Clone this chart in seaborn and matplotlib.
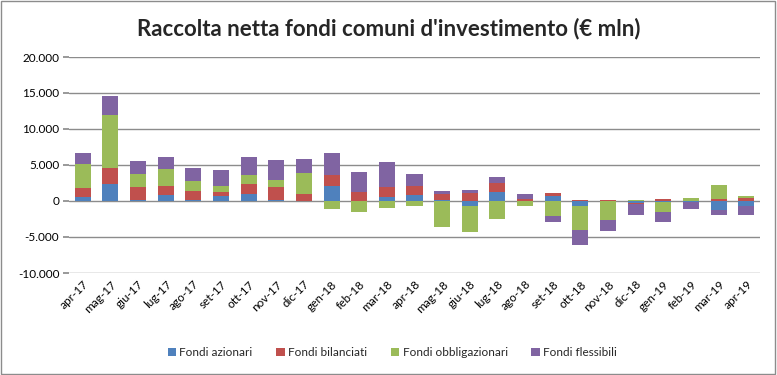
import matplotlib.pyplot as plt
from matplotlib.patches import Rectangle
from matplotlib.ticker import FuncFormatter
import seaborn as sns
import pandas as pd
import numpy as np

mesi = ['apr-17', 'mag-17', 'giu-17', 'lug-17', 'ago-17', 'set-17', 'ott-17', 'nov-17', 'dic-17',
        'gen-18', 'feb-18', 'mar-18', 'apr-18', 'mag-18', 'giu-18', 'lug-18', 'ago-18', 'set-18',
        'ott-18', 'nov-18', 'dic-18', 'gen-19', 'feb-19', 'mar-19', 'apr-19']

azionari = [500, 2350, 200, 800, 100, 650, 950, 200, 50, 2050, 50, 500, 830, 140, -740, 1300,
            50, 650, -750, -50, -300, -100, -150, -1250, -650]
bilanciati = [1300, 2300, 1700, 1350, 1300, 650, 1450, 1700, 900, 1500, 1250, 1500, 1200, 800,
              1100, 1150, 250, 500, 150, 150, -100, 300, 50, 300, 370]
obbligazionari = [3400, 7300, 1900, 2350, 1400, 850, 1150, 1050, 2950, -1150, -1550, -1000, -750,
                  -3650, -3600, -2550, -650, -2150, -3300, -2600, 100, -1450, 400, 1950, 370]
flessibili = [1500, 2650, 1800, 1650, 1800, 2100, 2600, 2750, 1900, 3100, 2700, 3400, 1750, 450,
              450, 950, 700, -800, -2050, -1500, -1600, -1400, -900, -680, -1350]

serie = ['Fondi azionari', 'Fondi bilanciati', 'Fondi obbligazionari', 'Fondi flessibili']
colori = ['#4F81BD', '#C0504D', '#9BBB59', '#8064A2']

df = pd.DataFrame({'Fondi azionari': azionari, 'Fondi bilanciati': bilanciati,
                   'Fondi obbligazionari': obbligazionari, 'Fondi flessibili': flessibili},
                  index=mesi)

sns.set_theme(style='white')
plt.rcParams['font.family'] = ['Lato', 'DejaVu Sans']

fig = plt.figure(figsize=(7.77, 3.75), dpi=100)
ax = fig.add_axes([69 / 777, 1 - 273 / 375, (760 - 69) / 777, (273 - 57) / 375])

x = np.arange(len(mesi))
pos_base = np.zeros(len(mesi))
neg_base = np.zeros(len(mesi))
# excel-style stacking: positives go up, negatives go down
for nome, col in zip(serie, colori):
    vals = df[nome].values.astype(float)
    bottom = np.where(vals >= 0, pos_base, neg_base)
    ax.bar(x, vals, bottom=bottom, width=0.58, color=col, label=nome, zorder=3, linewidth=0)
    pos_base = pos_base + np.clip(vals, 0, None)
    neg_base = neg_base + np.clip(vals, None, 0)

ax.set_xlim(-0.5, len(mesi) - 0.5)
ax.set_ylim(-10000, 20000)
ax.set_yticks(np.arange(-10000, 20001, 5000))
ax.yaxis.set_major_formatter(FuncFormatter(lambda v, p: f'{int(v):,}'.replace(',', '.')))
ax.grid(axis='y', color='#8c8c8c', linewidth=1, zorder=0)
for s in ax.spines.values():
    s.set_visible(False)

ax.set_xticks(x)
ax.set_xticklabels(mesi, rotation=45, ha='right', rotation_mode='anchor')
ax.tick_params(axis='x', length=0, pad=4, labelsize=8.5, colors='#000000')
ax.tick_params(axis='y', length=4, color='#8c8c8c', left=True, pad=3, labelsize=8.5,
               labelcolor='#000000')

fig.text(0.5, 0.925, "Raccolta netta fondi comuni d'investimento (€ mln)", ha='center',
         va='center', fontsize=16, fontweight='bold')

fig.legend(loc='center', bbox_to_anchor=(0.505, 0.06), ncol=4, frameon=False, fontsize=8.5,
           handlelength=0.7, handleheight=0.7, handletextpad=0.3, columnspacing=2.0)

fig.patches.append(Rectangle((0.001, 0.002), 0.997, 0.995, transform=fig.transFigure,
                             fill=False, edgecolor='#8c8c8c', linewidth=1))

fig.savefig('out.png', dpi=100)
